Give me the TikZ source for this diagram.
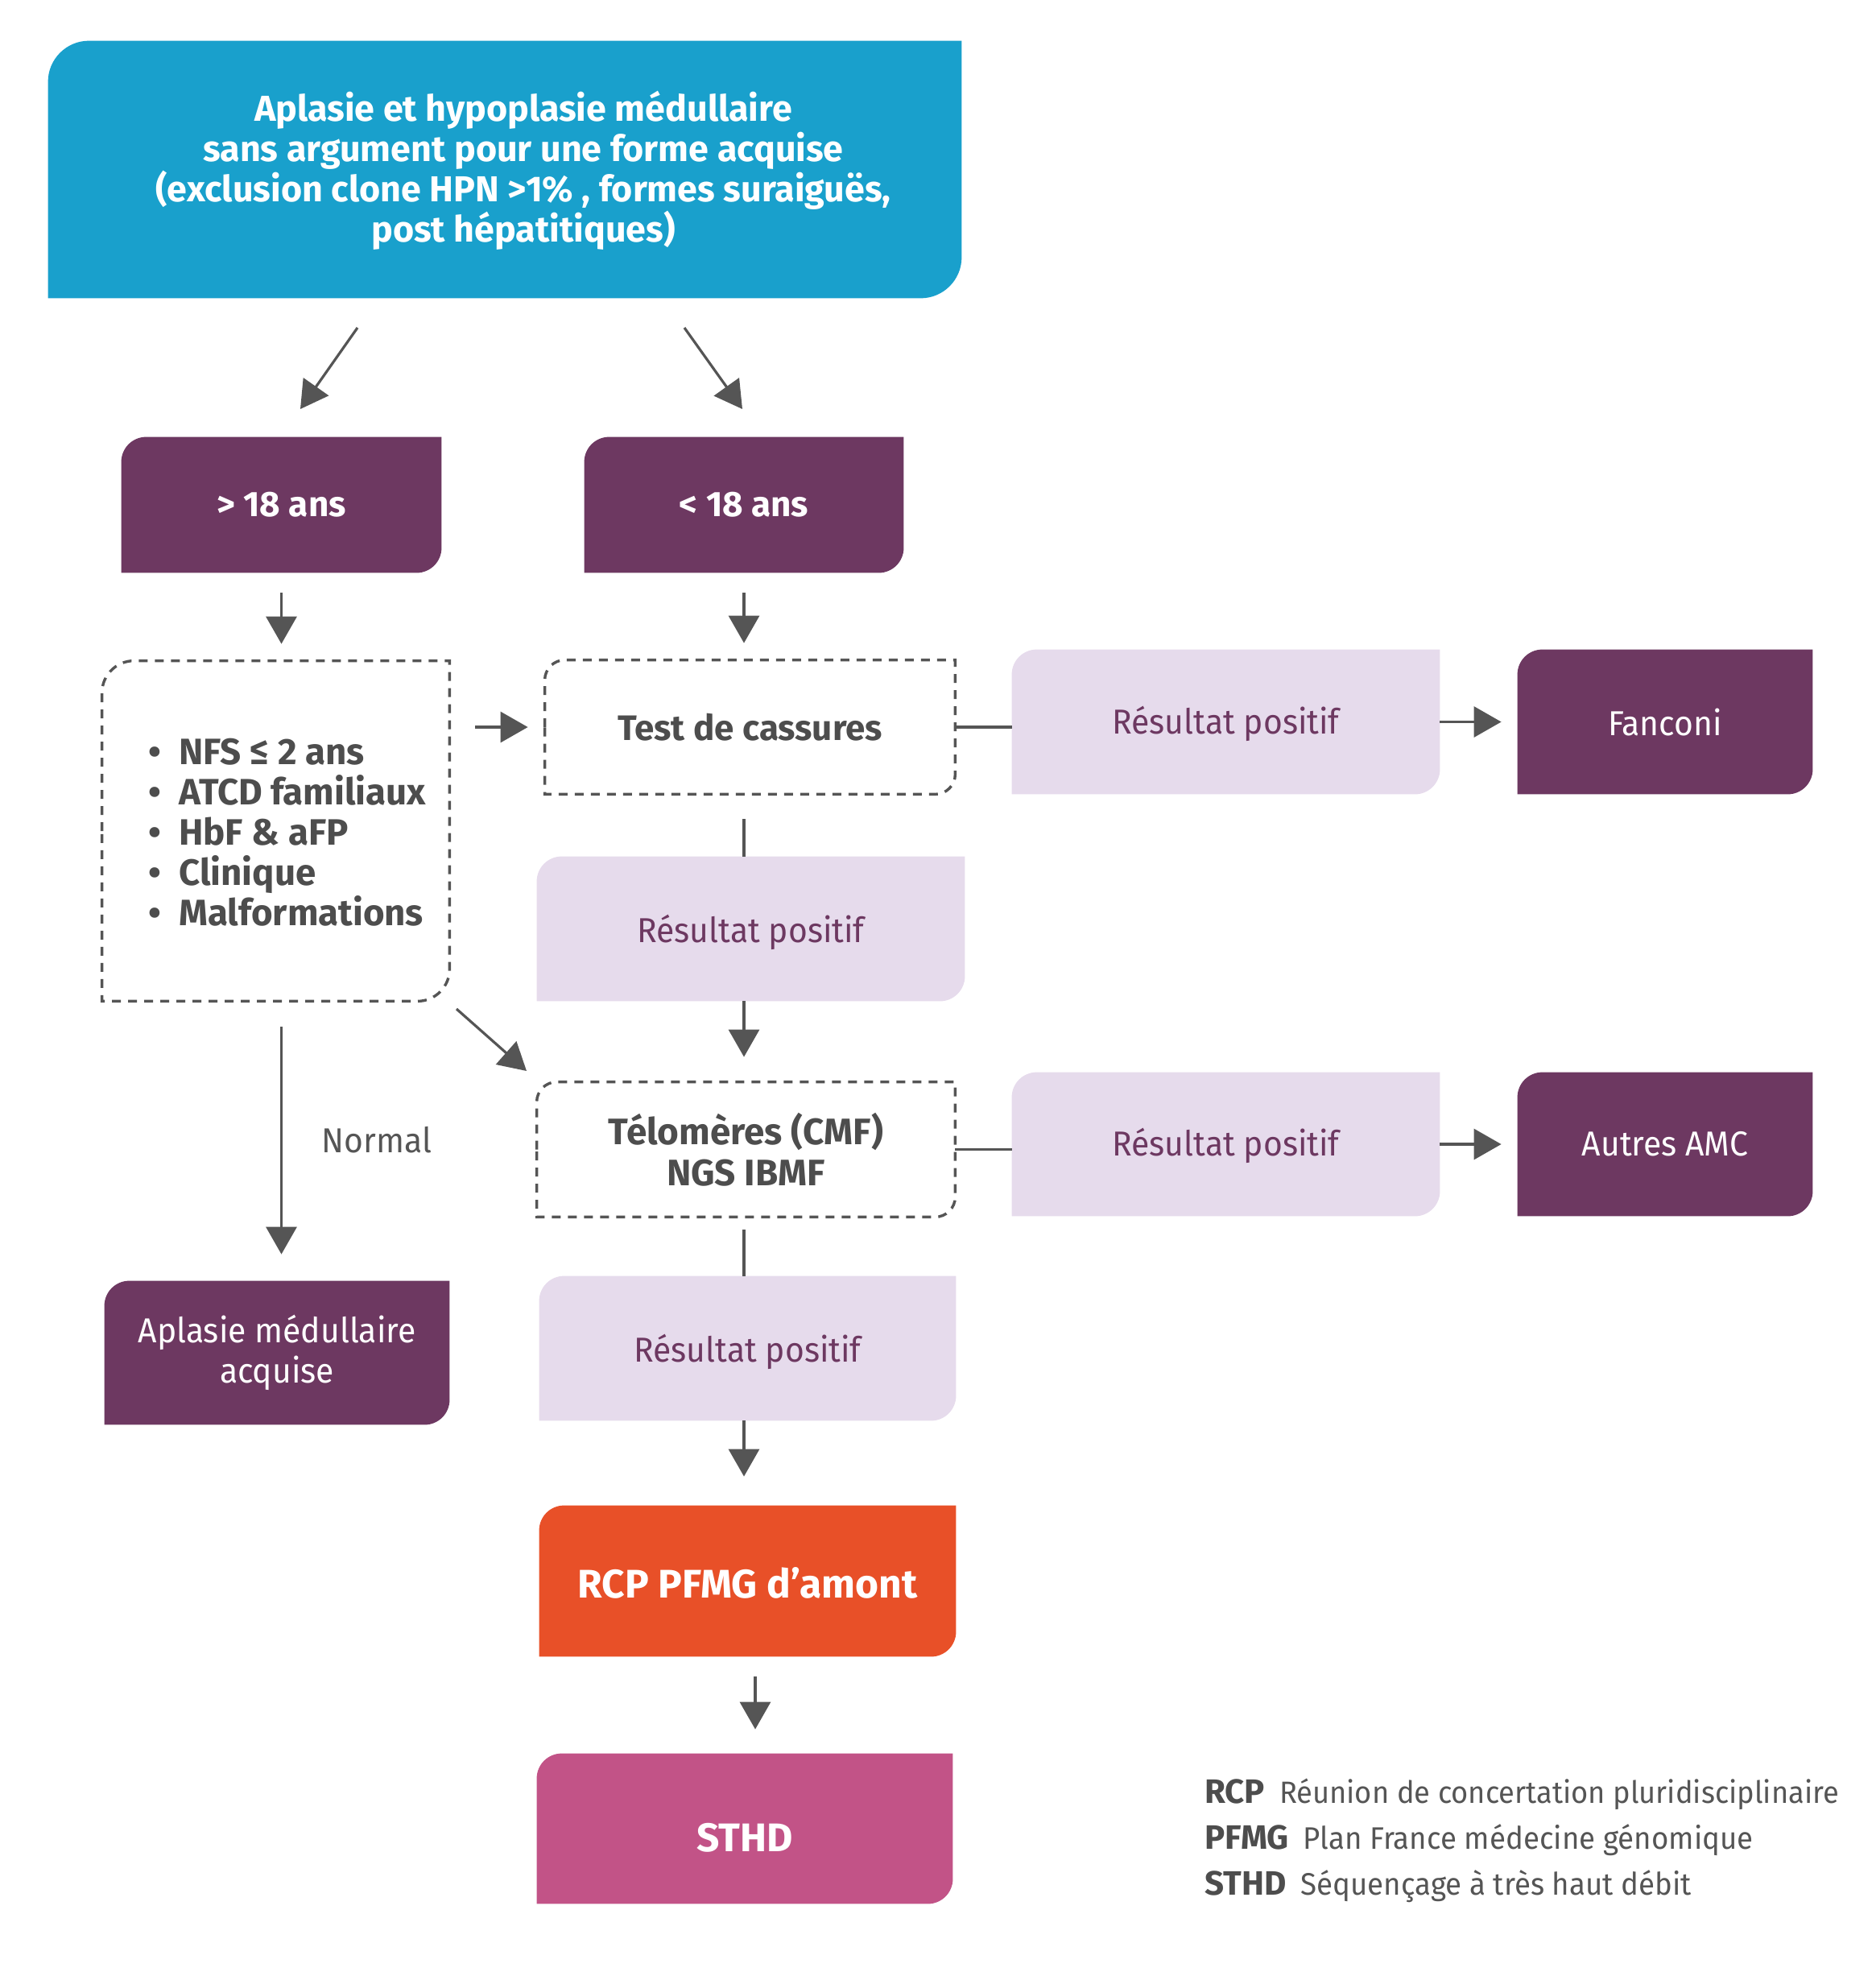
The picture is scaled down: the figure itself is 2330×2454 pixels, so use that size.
\documentclass[tikz,border=0pt]{standalone}
\usepackage{fontspec}
\setmainfont{Fira Sans}
\newfontfamily\regfont{Fira Sans}[FakeStretch=0.95]
\usetikzlibrary{arrows.meta,backgrounds,calc}
\definecolor{cblue}{HTML}{19A0CC}
\definecolor{cpurple}{HTML}{6D3861}
\definecolor{clav}{HTML}{E6DBEC}
\definecolor{corange}{HTML}{E85028}
\definecolor{cpink}{HTML}{C25387}
\definecolor{cgray}{HTML}{555555}
\definecolor{ctext}{HTML}{4D4D4D}
% box node: x1 y1 x2 y2 name style text
\newcommand\bx[7]{%
  \node[#6, minimum width={(#3-#1)*0.5pt}, minimum height={(#4-#2)*0.5pt}] (#5) at ({(#1+#3)/2},{(#2+#4)/2}) {#7};}
% shape with rounded top-left and bottom-right corners: name, radius, style
\newcommand\tlbr[3]{%
  \path[#3] (#1.west) [rounded corners=#2] -- (#1.north west) -- (#1.north) [sharp corners] -- (#1.north east) -- (#1.east) [rounded corners=#2] -- (#1.south east) -- (#1.south) [sharp corners] -- (#1.south west) -- cycle;}
\newcommand\bul{\makebox[19pt][l]{•}}
\newcommand\txtdown[2]{\raisebox{-#1}[\height][\depth]{#2}}
\begin{document}
\begin{tikzpicture}[x=0.5pt,y=-0.5pt,
  box/.style={inner sep=0pt, align=center, text=white},
  bold/.style={font=\fontsize{22}{25}\selectfont\bfseries},
  boldxl/.style={font=\fontsize{24.8}{28}\selectfont\bfseries},
  reg/.style={font=\regfont\fontsize{21.5}{25}\selectfont},
  legfont/.style={font=\fontsize{21}{25}\selectfont},
  lav/.style={box, reg, text=cpurple},
  dbox/.style={box, bold, text=ctext},
  ln/.style={draw=cgray, line width=1.6pt},
  arr/.style={ln, -{Triangle[length=17pt,width=19pt]}},
  dashbox/.style={draw=cgray, line width=1.7pt, dash pattern=on 5.5pt off 4.5pt}]
\useasboundingbox (0,0) rectangle (2330,2454);

% nodes
\bx{60}{51}{1194}{370}{top}{box}{}
\node[box, font=\fontsize{22.4}{25}\selectfont\bfseries] (toptext) at (650,212)
  {Aplasie et hypoplasie médullaire\\sans argument pour une forme acquise\\(exclusion clone HPN >1\% , formes suraiguës,\\post hépatitiques)};
\bx{151}{543}{548}{711}{a18}{box,bold}{> 18 ans}
\bx{726}{543}{1122}{711}{b18}{box,bold}{< 18 ans}
\bx{127}{821}{558}{1243}{crit}{box}{}
\node[inner sep=0pt, align=left, anchor=west, text=ctext, font=\fontsize{22.8}{25}\selectfont\bfseries] (critlist) at (184,1034)
  {\bul NFS ≤ 2 ans\\\bul ATCD familiaux\\\bul HbF \& aFP\\\bul Clinique\\\bul Malformations};
\bx{677}{820}{1186}{986}{test}{dbox}{Test de cassures}
\bx{1257}{807}{1788}{986}{rp1}{lav}{\txtdown{1pt}{Résultat positif}}
\bx{1885}{807}{2251}{986}{fan}{box,reg}{Fanconi}
\bx{667}{1064}{1198}{1243}{rp2}{lav}{\txtdown{2pt}{Résultat positif}}
\bx{667}{1344}{1186}{1511}{telo}{dbox, font=\fontsize{22.9}{25.5}\selectfont\bfseries}{Télomères (CMF)\\NGS IBMF}
\bx{1257}{1332}{1788}{1510}{rp4}{lav}{\txtdown{1pt}{Résultat positif}}
\bx{1885}{1332}{2251}{1510}{amc}{box,reg}{Autres AMC}
\bx{130}{1591}{558}{1769}{acq}{box,reg}{Aplasie médullaire\\acquise}
\bx{670}{1585}{1187}{1764}{rp3}{lav}{\txtdown{2pt}{Résultat positif}}
\bx{670}{1870}{1187}{2057}{rcp}{box,boldxl}{\txtdown{1pt}{RCP PFMG d’amont}}
\bx{667}{2178}{1183}{2364}{sthd}{box,boldxl}{\txtdown{5.5pt}{STHD}}
\node[reg, text=cgray, inner sep=0pt] (normal) at (468,1416) {Normal};

% legend
\node[anchor=base west, inner sep=0pt, legfont, text=cgray] (leg1) at (1496,2239) {\textcolor{ctext}{\bfseries RCP}\hspace{9pt}{\regfont\fontsize{19.1}{25}\selectfont Réunion de concertation pluridisciplinaire}};
\node[anchor=base west, inner sep=0pt, legfont, text=cgray] (leg2) at (1496,2296) {\textcolor{ctext}{\bfseries PFMG}\hspace{9pt}{\regfont\fontsize{19.3}{25}\selectfont Plan France médecine génomique}};
\node[anchor=base west, inner sep=0pt, legfont, text=cgray] (leg3) at (1496,2353) {\textcolor{ctext}{\bfseries STHD}\hspace{9pt}{\regfont\fontsize{19.3}{25}\selectfont Séquençage à très haut débit}};

% backgrounds
\begin{scope}[on background layer]
\tlbr{top}{25.5pt}{fill=cblue}
\tlbr{a18}{15.5pt}{fill=cpurple}
\tlbr{b18}{15.5pt}{fill=cpurple}
\tlbr{crit}{20pt}{dashbox}
\tlbr{test}{12.5pt}{dashbox}
\tlbr{rp1}{15.5pt}{fill=clav}
\tlbr{fan}{15.5pt}{fill=cpurple}
\tlbr{rp2}{15.5pt}{fill=clav}
\tlbr{telo}{12.5pt}{dashbox}
\tlbr{rp4}{15.5pt}{fill=clav}
\tlbr{amc}{15.5pt}{fill=cpurple}
\tlbr{acq}{15.5pt}{fill=cpurple}
\tlbr{rp3}{15.5pt}{fill=clav}
\tlbr{rcp}{15.5pt}{fill=corange}
\tlbr{sthd}{15.5pt}{fill=cpink}
\end{scope}

% connectors
\coordinate (ta1) at (444,407); \coordinate (ta2) at (373,508);
\coordinate (tb1) at (850,407); \coordinate (tb2) at (922,508);
\draw[arr] (ta1) -- (ta2);
\draw[arr] (tb1) -- (tb2);
\draw[arr, shorten <=12.5pt, shorten >=10.5pt] (a18.south) -- (a18.south |- crit.north);
\draw[arr, shorten <=12.5pt, shorten >=10.5pt] (b18.south) -- (b18.south |- test.north);
\draw[arr, shorten <=16pt, shorten >=10.5pt] (crit.east |- test.west) -- (test.west);
\draw[ln] (test.east) -- (test.east -| rp1.west);
\draw[arr, shorten >=10pt] (rp1.east) -- (fan.west);
\draw[ln, shorten <=15.5pt] (test.south -| b18.south) -- (rp2.north -| b18.south);
\draw[arr, shorten >=15.5pt] (rp2.south -| b18.south) -- (telo.north -| b18.south);
\coordinate (cd1) at (567,1253); \coordinate (cd2) at (654,1330);
\draw[arr] (cd1) -- (cd2);
\draw[arr, shorten <=16pt, shorten >=16.5pt] (crit.south -| a18.south) -- (acq.north -| a18.south);
\draw[ln] (telo.east) -- (telo.east -| rp4.west);
\draw[arr, shorten >=10pt] (rp4.east) -- (amc.west);
\draw[ln, shorten <=8pt] (telo.south -| b18.south) -- (rp3.north -| b18.south);
\draw[arr, shorten >=18pt] (rp3.south -| b18.south) -- (rcp.north -| b18.south);
\path ([xshift=4.75pt]rcp.south) coordinate (rcpout);
\draw[arr, shorten <=12.5pt, shorten >=15pt] (rcpout) -- (rcpout |- sthd.north);
\end{tikzpicture}
\end{document}
